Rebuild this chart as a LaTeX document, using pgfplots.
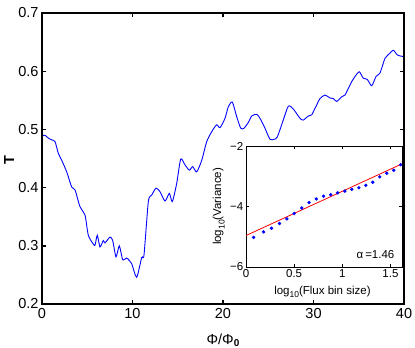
\documentclass[border=0pt]{standalone}
\usepackage{fontspec}
\setmainfont{Liberation Sans}
\usepackage{pgfplots}
\pgfplotsset{compat=1.18}

% main transmission curve T(Phi/Phi0)
\pgfplotstableread{
x y
0.00 0.489
0.33 0.490
0.70 0.485
1.07 0.482
1.44 0.479
1.80 0.459
2.18 0.447
2.73 0.427
3.28 0.401
3.65 0.396
4.20 0.367
4.75 0.353
5.12 0.318
5.67 0.303
5.86 0.301
6.11 0.318
6.41 0.298
6.77 0.309
6.96 0.305
7.51 0.315
7.81 0.309
8.18 0.281
8.54 0.300
8.92 0.276
9.36 0.279
9.91 0.269
10.46 0.246
11.02 0.280
11.27 0.284
11.75 0.376
12.12 0.387
12.60 0.399
13.04 0.393
13.59 0.377
14.07 0.390
14.40 0.376
14.88 0.407
15.33 0.449
15.80 0.439
16.28 0.430
16.65 0.436
17.09 0.427
17.65 0.447
18.20 0.479
18.75 0.496
19.30 0.508
19.67 0.503
20.22 0.519
20.59 0.539
21.03 0.547
21.51 0.522
21.96 0.502
22.32 0.502
22.80 0.512
23.17 0.523
23.72 0.526
24.09 0.519
24.64 0.502
25.19 0.483
25.64 0.483
26.00 0.487
26.66 0.516
27.22 0.540
27.77 0.535
28.51 0.519
28.87 0.516
29.43 0.523
29.80 0.525
30.35 0.542
30.72 0.553
31.27 0.559
31.82 0.554
32.19 0.553
32.56 0.548
33.12 0.556
33.48 0.559
34.22 0.582
34.59 0.591
35.06 0.599
35.50 0.588
35.94 0.586
36.43 0.575
36.91 0.591
37.35 0.597
37.90 0.622
38.45 0.631
38.82 0.636
39.26 0.628
39.64 0.626
40.00 0.625
}\maindata

% inset: log10 variance vs log10 bin size
\pgfplotstableread{
x y
0.079 -5.02
0.182 -4.84
0.265 -4.72
0.348 -4.56
0.424 -4.41
0.500 -4.23
0.579 -4.05
0.655 -3.87
0.730 -3.75
0.806 -3.66
0.879 -3.61
0.951 -3.55
1.027 -3.49
1.099 -3.43
1.172 -3.38
1.244 -3.30
1.316 -3.20
1.389 -3.02
1.461 -2.90
1.534 -2.80
1.606 -2.62
}\insetdata

\begin{document}
\begin{tikzpicture}
\useasboundingbox (-42pt,-44pt) rectangle (373pt,304pt);
\begin{axis}[
    name=main,
    at={(0pt,0pt)}, anchor=south west,
    scale only axis, width=362pt, height=291pt,
    xmin=0, xmax=40, ymin=0.2, ymax=0.7,
    xtick={0,10,20,30,40},
    ytick={0.2,0.3,0.4,0.5,0.6,0.7},
    yticklabels={0.2,0.3,0.4,0.5,0.6,0.7},
    clip=false,
    tick style={line width=1.4pt, black},
    tick align=inside, major tick length=4pt,
    /pgf/number format/assume math mode=true,
    ticklabel style={font=\fontsize{14.5}{16}\selectfont},
    xticklabel style={yshift=-1pt},
    xlabel={Φ/Φ\raisebox{-0.35ex}{\fontsize{10}{12}\selectfont\bfseries 0}},
    xlabel style={font=\fontsize{14.5}{16}\selectfont,
      at={(axis description cs:0.5,-0.125)}, anchor=center},
    ylabel={\bfseries T},
    ylabel style={font=\fontsize{14.5}{16}\selectfont,
      at={(axis description cs:-0.091,0.495)}, anchor=center, rotate=0},
]
\addplot[blue, line width=0.9pt, smooth, tension=0.4] table[x=x,y=y] {\maindata};
% heavy frame as in the original figure
\draw[line width=2.2pt, line join=miter] (rel axis cs:0,0) rectangle (rel axis cs:1,1);
\end{axis}

\begin{axis}[
    at={(204pt,37pt)}, anchor=south west,
    scale only axis, width=156pt, height=121pt,
    xmin=0, xmax=1.62, ymin=-6, ymax=-2,
    xtick={0,0.5,1,1.5}, xticklabels={0,0.5,1,1.5},
    ytick={-6,-4,-2}, yticklabels={−6,−4,−2},
    axis background/.style={fill=white},
    line width=0.9pt,
    tick style={line width=0.6pt, black},
    tick align=inside, major tick length=3pt,
    ticklabel style={font=\fontsize{11.5}{13}\selectfont},
    xticklabel style={yshift=1pt},
    yticklabel style={xshift=1pt},
    xlabel={log\raisebox{-0.6ex}{\fontsize{8.5}{10}\selectfont 10}(Flux bin size)},
    xlabel style={font=\fontsize{11.5}{13}\selectfont,
      at={(axis description cs:0.49,-0.205)}, anchor=center},
    ylabel={log\raisebox{-0.6ex}{\fontsize{8.5}{10}\selectfont 10}(Variance)},
    ylabel style={font=\fontsize{11.5}{13}\selectfont,
      at={(axis description cs:-0.175,0.5)}, anchor=center},
]
\addplot[red, line width=0.8pt] coordinates {(0,-4.96) (1.62,-2.59)};
\addplot[blue, only marks, mark=*, mark size=1.2pt] table[x=x,y=y] {\insetdata};
\node[anchor=east, font=\fontsize{11.5}{13}\selectfont] at (axis cs:1.58,-5.6) {α\,=1.46};
\end{axis}
\end{tikzpicture}
\end{document}
